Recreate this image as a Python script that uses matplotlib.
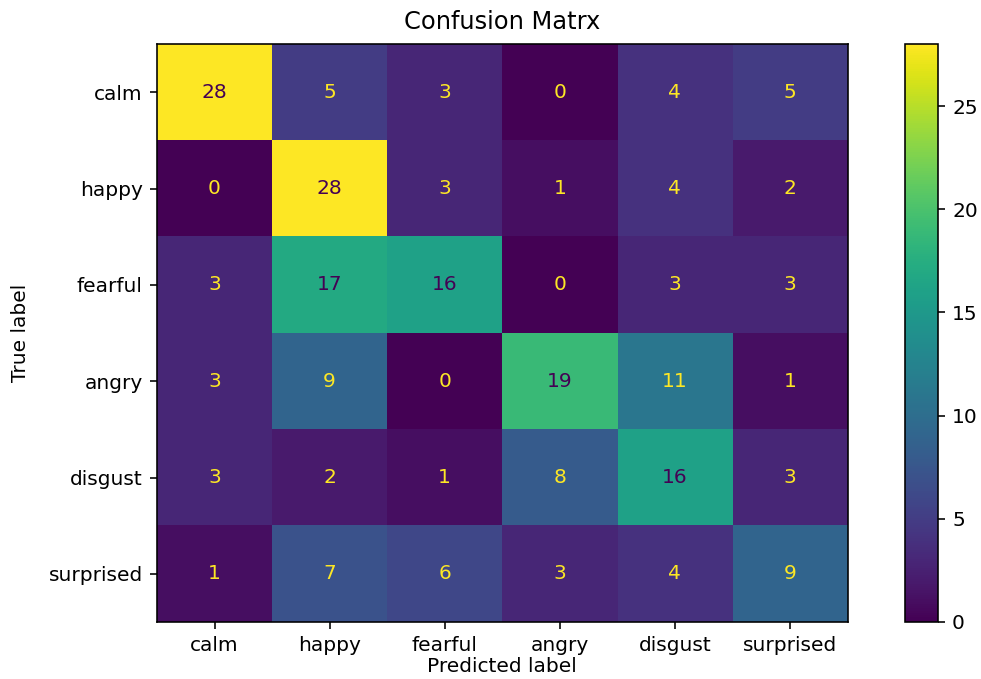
import numpy as np
import matplotlib.pyplot as plt

labels = ["calm", "happy", "fearful", "angry", "disgust", "surprised"]
cm = np.array([
    [28, 5, 3, 0, 4, 5],
    [0, 28, 3, 1, 4, 2],
    [3, 17, 16, 0, 3, 3],
    [3, 9, 0, 19, 11, 1],
    [3, 2, 1, 8, 16, 3],
    [1, 7, 6, 3, 4, 9],
])

# everything scaled up ~1.45x from matplotlib defaults
s = 1.45
plt.rcParams.update({
    "font.size": 10 * s,
    "axes.linewidth": 0.8 * s,
    "xtick.major.size": 3.5 * s,
    "ytick.major.size": 3.5 * s,
    "xtick.major.width": 0.8 * s,
    "ytick.major.width": 0.8 * s,
    "xtick.major.pad": 3.5 * s,
    "ytick.major.pad": 3.5 * s,
    "axes.titlepad": 7.5 * s,
})

fig = plt.figure(figsize=(9.81, 6.79), dpi=100)
ax = fig.add_axes([0.160, 0.084, 0.704, 0.851])
cax = fig.add_axes([0.9225, 0.084, 0.0336, 0.851])

cmap = plt.get_cmap("viridis")
im = ax.imshow(cm, cmap=cmap, aspect="auto", interpolation="nearest")

# text colour flips at the midpoint of the range, like sklearn's display
thresh = (cm.max() + cm.min()) / 2.0
for i in range(cm.shape[0]):
    for j in range(cm.shape[1]):
        color = cmap(0.0) if cm[i, j] > thresh else cmap(1.0)
        ax.text(j, i, str(cm[i, j]), ha="center", va="center", color=color)

ax.set_xticks(range(len(labels)), labels)
ax.set_yticks(range(len(labels)), labels)
ax.set_xlabel("Predicted label", labelpad=1.5)
ax.set_ylabel("True label", labelpad=13.5)
ax.set_title("Confusion Matrx")

cb = fig.colorbar(im, cax=cax)
cb.set_ticks([0, 5, 10, 15, 20, 25])

fig.savefig("out.png", dpi=100)
